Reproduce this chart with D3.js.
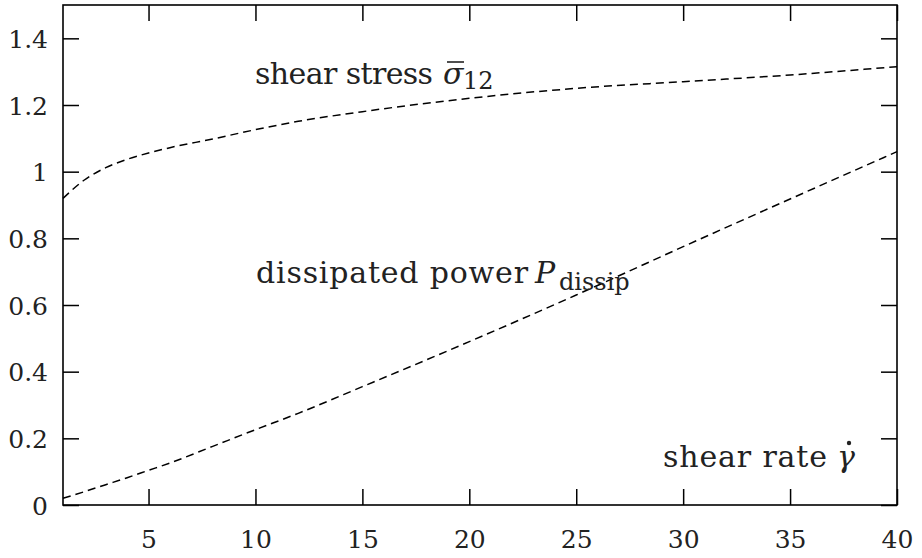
<!DOCTYPE html>
<meta charset="utf-8">
<style>
body { margin: 0; padding: 0; background: #fff; }
svg { display: block; font-family: "DejaVu Serif", serif; }
svg text { fill: #222; }
.tick text { font-size: 25px; }
.frame { fill: none; stroke: #000; stroke-width: 1.6px; }
.curve { fill: none; stroke: #000; stroke-width: 1.5px; stroke-dasharray: 8,5; }
.note { font-size: 30px; }
.sub { font-size: 24px; }
.accent { stroke: #222; stroke-width: 1.6px; }
</style>
<body>
<div id="chart"></div>
<script src="https://d3js.org/d3.v7.min.js"></script>
<script>

var rate = [1, 2, 3, 4, 5, 6, 8, 10, 12, 15, 20, 25, 30, 35, 40];
var stress = [0.92, 0.975, 1.012, 1.037, 1.056, 1.072, 1.098, 1.126, 1.151, 1.18, 1.22, 1.25, 1.27, 1.29, 1.315];
var power = [0.02, 0.04, 0.061, 0.082, 0.104, 0.126, 0.176, 0.226, 0.275, 0.355, 0.49, 0.63, 0.775, 0.918, 1.06];

var xTicks = [5, 10, 15, 20, 25, 30, 35, 40];
var yTicks = [0, 0.2, 0.4, 0.6, 0.8, 1, 1.2, 1.4];

var outerWidth = 922, outerHeight = 558;
var margin = { top: 5, right: 25, bottom: 53, left: 63 };
var width = outerWidth - margin.left - margin.right;
var height = outerHeight - margin.top - margin.bottom;
var tickLen = 16;

var root = d3.select('#chart').append('svg')
    .attr('width', outerWidth)
    .attr('height', outerHeight);
var svg = root.append('g')
    .attr('transform', 'translate(' + [margin.left, margin.top] + ')');

var x = d3.scaleLinear().domain([1, 40]).range([0, width]);
var y = d3.scaleLinear().domain([0, 1.5]).range([height, 0]);

function fmt(d) { return d === 0 ? '0' : d === 1 ? '1' : d3.format('.1f')(d); }

function styleAxis(g) {
  g.attr('font-family', null).attr('font-size', null);
  g.select('.domain').remove();
  g.selectAll('.tick line').attr('stroke', '#000').attr('stroke-width', 1.5);
}

// bottom and left axes with labels, ticks pointing inward
svg.append('g')
    .attr('transform', 'translate(0,' + height + ')')
    .call(d3.axisBottom(x).tickValues(xTicks).tickSizeInner(-tickLen).tickSizeOuter(0))
    .call(styleAxis)
    .call(function (g) {
      g.selectAll('.tick text').attr('dy', 0).attr('y', 43);
    });

svg.append('g')
    .call(d3.axisLeft(y).tickValues(yTicks).tickFormat(fmt).tickSizeInner(-tickLen).tickSizeOuter(0))
    .call(styleAxis)
    .call(function (g) {
      g.selectAll('.tick text').attr('dy', '0.36em').attr('x', -15);
    });

// mirrored ticks on top and right
svg.append('g')
    .call(d3.axisTop(x).tickValues(xTicks).tickSizeInner(-tickLen).tickSizeOuter(0).tickFormat(''))
    .call(styleAxis);

svg.append('g')
    .attr('transform', 'translate(' + width + ',0)')
    .call(d3.axisRight(y).tickValues(yTicks).tickSizeInner(-tickLen).tickSizeOuter(0).tickFormat(''))
    .call(styleAxis);

svg.append('rect').attr('class', 'frame')
    .attr('width', width).attr('height', height);

var line = d3.line()
    .x(function (d) { return x(d[0]); })
    .y(function (d) { return y(d[1]); })
    .curve(d3.curveMonotoneX);

svg.append('path').attr('class', 'curve')
    .attr('d', line(d3.zip(rate, stress)));
svg.append('path').attr('class', 'curve')
    .attr('d', line(d3.zip(rate, power)));

// annotations, page coordinates
var notes = root.append('g');
function word(txt, px, py, len, cls, italic) {
  var t = notes.append('text').attr('class', cls).attr('x', px).attr('y', py).text(txt);
  if (len) t.attr('textLength', len).attr('lengthAdjust', 'spacing');
  if (italic) t.attr('font-style', 'italic');
  return t;
}

word('shear stress', 255, 84, 178, 'note');
var sig = word('σ', 443, 84, 0, 'note', true);
word('12', 463, 89, 0, 'sub');

word('dissipated power', 256, 283, 272, 'note');
word('P', 535, 283, 0, 'note', true);
word('dissip', 559, 290, 0, 'sub');

word('shear rate', 663, 467, 164, 'note');
var gam = word('γ', 837, 467, 0, 'note', true);

// bar over sigma, dot over gamma
var bs = sig.node().getBBox();
notes.append('line').attr('class', 'accent')
    .attr('x1', bs.x + 4).attr('x2', bs.x + bs.width - 1)
    .attr('y1', 62).attr('y2', 62);
var bg = gam.node().getBBox();
notes.append('circle').attr('fill', '#222')
    .attr('cx', bg.x + bg.width / 2 + 3).attr('cy', 443).attr('r', 2.2);

</script>
